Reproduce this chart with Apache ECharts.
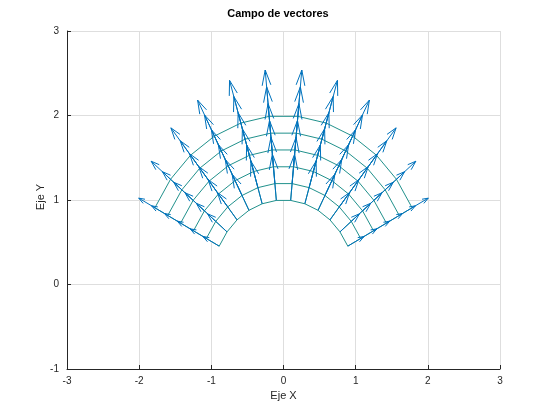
<!DOCTYPE html>
<html><head><meta charset="utf-8">
<script src="https://cdn.jsdelivr.net/npm/echarts@6/dist/echarts.min.js"></script>
<style>html,body{margin:0;padding:0;background:#fff}#c{width:547px;height:410px}</style>
</head><body><div id="c"></div>
<script>
// Mesh grid (angles in degrees, radii)
const thetaDeg = [153, 141.5, 130.1, 118.6, 107.2, 95.7, 84.3, 72.8, 61.4, 49.9, 38.5, 27];
const radii = [1.0, 1.2, 1.4, 1.6, 1.8, 2.0];
// Drawn arrow components (data units) for each angle column, same for every radius
const arrowU = [-0.224, -0.269, -0.272, -0.233, -0.156, -0.055, 0.055, 0.156, 0.233, 0.272, 0.269, 0.224];
const arrowV = [0.114, 0.214, 0.324, 0.426, 0.505, 0.548, 0.548, 0.505, 0.426, 0.324, 0.214, 0.114];
const xTicks = [-3, -2, -1, 0, 1, 2, 3];
const yTicks = [-1, 0, 1, 2, 3];
const titleText = 'Campo de vectores';
const xName = 'Eje X';
const yName = 'Eje Y';

const FONT = '"Liberation Sans", Arial, Helvetica, sans-serif';
const MESH = '#21918c';
const ARROW = '#0072bd';
const HEAD = 0.33;
const AXIS = '#262626';

const arrowData = [];
radii.forEach(r => {
  thetaDeg.forEach((t, k) => {
    const a = t * Math.PI / 180;
    arrowData.push([r * Math.cos(a), r * Math.sin(a), arrowU[k], arrowV[k]]);
  });
});

function renderMesh(params, api) {
  const P = (r, t) => api.coord([r * Math.cos(t * Math.PI / 180), r * Math.sin(t * Math.PI / 180)]);
  const rIn = radii[0], rOut = radii[radii.length - 1];
  const children = [];
  const poly = thetaDeg.map(t => P(rOut, t)).concat(thetaDeg.slice().reverse().map(t => P(rIn, t)));
  children.push({type: 'polygon', shape: {points: poly}, style: {fill: '#ffffff', stroke: null}});
  radii.forEach(r => children.push({type: 'polyline', shape: {points: thetaDeg.map(t => P(r, t))}, style: {stroke: MESH, lineWidth: 1, fill: null}}));
  thetaDeg.forEach(t => children.push({type: 'polyline', shape: {points: radii.map(r => P(r, t))}, style: {stroke: MESH, lineWidth: 1, fill: null}}));
  return {type: 'group', children};
}

function renderArrow(params, api) {
  const x = api.value(0), y = api.value(1), u = api.value(2), v = api.value(3);
  const a = HEAD;
  const base = api.coord([x, y]);
  const tip = api.coord([x + u, y + v]);
  const xt = x + u * (1 - a), yt = y + v * (1 - a);
  const b1 = api.coord([xt + v * a / 3, yt - u * a / 3]);
  const b2 = api.coord([xt - v * a / 3, yt + u * a / 3]);
  return {type: 'group', children: [
    {type: 'line', shape: {x1: base[0], y1: base[1], x2: tip[0], y2: tip[1]}, style: {stroke: ARROW, lineWidth: 1}},
    {type: 'polyline', shape: {points: [b1, tip, b2]}, style: {stroke: ARROW, lineWidth: 1, fill: null}}
  ]};
}

const chart = echarts.init(document.getElementById('c'), null, {renderer: 'canvas'});
chart.setOption({
  animation: false,
  backgroundColor: '#ffffff',
  graphic: [
    {type: 'text', x: 278, y: 14, style: {text: titleText, font: 'bold 11px ' + FONT, fill: '#000', align: 'center', verticalAlign: 'middle', textAlign: 'center', textVerticalAlign: 'middle'}},
    {type: 'text', x: 41, y: 197, rotation: Math.PI / 2, style: {text: yName, font: '11px ' + FONT, fill: AXIS, align: 'center', verticalAlign: 'middle', textAlign: 'center', textVerticalAlign: 'middle'}}
  ],
  grid: {left: 67, right: 47, top: 31, bottom: 41, containLabel: false},
  xAxis: {
    type: 'value', min: xTicks[0], max: xTicks[xTicks.length - 1], interval: 1,
    name: xName, nameLocation: 'middle', nameGap: 21,
    nameTextStyle: {fontFamily: FONT, fontSize: 11, color: AXIS},
    axisLine: {show: true, onZero: false, lineStyle: {color: AXIS, width: 1}},
    axisTick: {show: true, inside: true, length: 4, lineStyle: {color: AXIS}},
    axisLabel: {fontFamily: FONT, fontSize: 10, color: AXIS, margin: 7, formatter: v => String(v)},
    splitLine: {show: true, lineStyle: {color: '#dedede', width: 1}}
  },
  yAxis: {
    type: 'value', min: yTicks[0], max: yTicks[yTicks.length - 1], interval: 1,
    axisLine: {show: true, onZero: false, lineStyle: {color: AXIS, width: 1}},
    axisTick: {show: true, inside: true, length: 4, lineStyle: {color: AXIS}},
    axisLabel: {fontFamily: FONT, fontSize: 10, color: AXIS, margin: 8, formatter: v => String(v)},
    splitLine: {show: true, lineStyle: {color: '#dedede', width: 1}}
  },
  series: [
    {type: 'custom', renderItem: renderMesh, data: [[0, 0]], encode: {x: 0, y: 1}, silent: true, z: 2},
    {type: 'custom', renderItem: renderArrow, dimensions: ['x', 'y', 'u', 'v'], encode: {x: 'x', y: 'y'}, data: arrowData, silent: true, z: 3}
  ]
});
</script>
</body></html>
